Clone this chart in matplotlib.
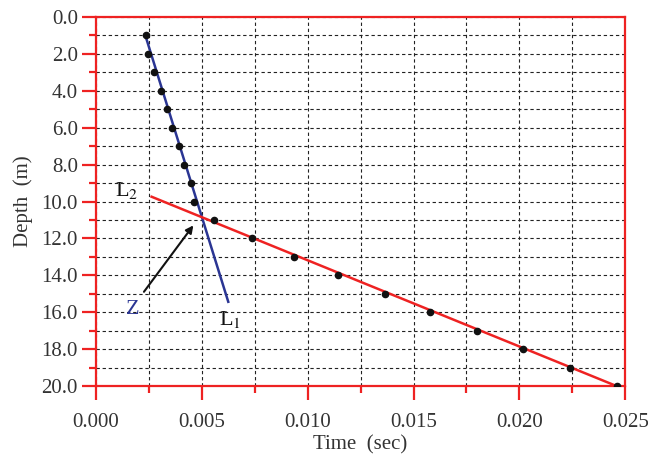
import matplotlib
matplotlib.use("Agg")
import matplotlib.pyplot as plt
from matplotlib.ticker import MultipleLocator, FormatStrFormatter

# measured arrival times (sec) against depth (m)
depth = [1, 2, 3, 4, 5, 6, 7, 8, 9, 10, 11, 12, 13, 14, 15, 16, 17, 18, 19, 20]
time = [0.00235, 0.00244, 0.00276, 0.00309, 0.00334, 0.00361, 0.00392,
        0.00416, 0.00449, 0.00465, 0.00559, 0.00736, 0.00937, 0.01145,
        0.01366, 0.01578, 0.01799, 0.02016, 0.0224, 0.02461]

# fitted lines (end points)
l1_time = [0.00232, 0.00625]
l1_depth = [0.95, 15.43]
l2_time = [0.00263, 0.0246]
l2_depth = [9.74, 20.0]

plt.rcParams["font.family"] = ["Liberation Serif", "DejaVu Serif"]
plt.rcParams["mathtext.fontset"] = "stix"

fig, ax = plt.subplots(figsize=(6.48, 4.57), dpi=100)
fig.subplots_adjust(left=0.148, right=0.965, top=0.963, bottom=0.155)

ax.plot(l1_time, l1_depth, color="#2a3593", lw=1.8, zorder=3)
ax.plot(l2_time, l2_depth, color="#ee2222", lw=1.8, zorder=3)
ax.scatter(time, depth, s=20, color="#111111", zorder=4)

ax.annotate("", xy=(0.00468, 11.17), xytext=(0.00219, 15.01),
            arrowprops=dict(arrowstyle="-|>", color="#111111", lw=1.5,
                            mutation_scale=11))
ax.text(0.00172, 15.85, "Z", color="#2a3593", fontsize=16,
        ha="center", va="center")
ax.text(0.00633, 16.4, "L$_1$", color="#111111", fontsize=16,
        ha="center", va="center")
ax.text(0.00145, 9.4, "L$_2$", color="#111111", fontsize=16,
        ha="center", va="center")

ax.set_xlim(0, 0.025)
ax.set_ylim(20, 0)
ax.xaxis.set_major_locator(MultipleLocator(0.005))
ax.xaxis.set_minor_locator(MultipleLocator(0.0025))
ax.yaxis.set_major_locator(MultipleLocator(2))
ax.yaxis.set_minor_locator(MultipleLocator(1))
ax.xaxis.set_major_formatter(FormatStrFormatter("%.3f"))
ax.yaxis.set_major_formatter(FormatStrFormatter("%.1f"))

ax.grid(True, which="both", color="#222222", ls=(0, (3, 2.5)), lw=0.8)
for s in ax.spines.values():
    s.set_color("#ee2222")
    s.set_linewidth(1.6)
ax.tick_params(which="both", direction="out", color="#ee2222",
               labelsize=15, labelcolor="#333333")
ax.tick_params(which="major", length=10, width=1.6, pad=3)
ax.tick_params(axis="x", which="major", pad=9)
ax.tick_params(which="minor", length=5, width=1.6)

ax.set_xlabel("Time  (sec)", fontsize=15, color="#333333", labelpad=3)
ax.set_ylabel("Depth  (m)", fontsize=15, color="#333333", labelpad=6)

fig.savefig("out.png", dpi=100)
